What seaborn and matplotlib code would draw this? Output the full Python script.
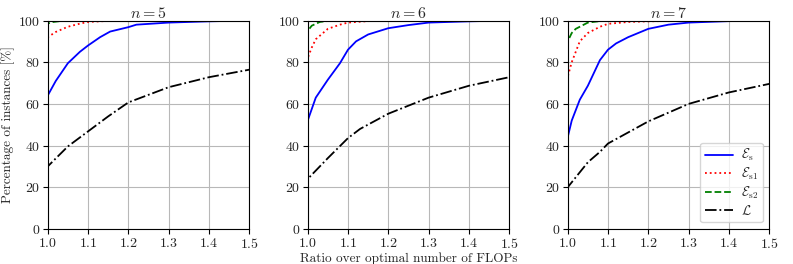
import matplotlib
matplotlib.use("Agg")
import matplotlib.pyplot as plt
import seaborn as sns

# dados (curvas de perfil de desempenho)
titulos = ["$n = 5$", "$n = 6$", "$n = 7$"]
rotulos = [r"$\mathcal{E}_\mathrm{s}$", r"$\mathcal{E}_\mathrm{s1}$",
           r"$\mathcal{E}_\mathrm{s2}$", r"$\mathcal{L}$"]

# n = 5
x_s_5 = [1.0, 1.0, 1.02, 1.05, 1.08, 1.1, 1.13, 1.155, 1.2, 1.22, 1.3, 1.4, 1.5]
y_s_5 = [0, 64, 71, 79.5, 85, 88, 92, 94.7, 96.8, 98, 99, 99.6, 100]
x_s1_5 = [1.0, 1.0, 1.02, 1.05, 1.08, 1.1, 1.15, 1.2, 1.5]
y_s1_5 = [0, 92, 94.5, 97, 98.5, 99.3, 99.8, 100, 100]
x_s2_5 = [1.0, 1.0, 1.01, 1.03, 1.06, 1.5]
y_s2_5 = [0, 98.5, 99.2, 99.7, 100, 100]
x_l_5 = [1.0, 1.0, 1.05, 1.1, 1.15, 1.2, 1.3, 1.4, 1.5]
y_l_5 = [0, 30, 39.6, 46.8, 54, 60.7, 68, 72.8, 76.4]

# n = 6
x_s_6 = [1.0, 1.0, 1.02, 1.05, 1.08, 1.1, 1.12, 1.15, 1.2, 1.25, 1.3, 1.4, 1.5]
y_s_6 = [0, 52, 63, 71.6, 79.5, 86, 90, 93.3, 96.3, 97.8, 99, 99.6, 100]
x_s1_6 = [1.0, 1.0, 1.01, 1.02, 1.05, 1.08, 1.1, 1.15, 1.25, 1.5]
y_s1_6 = [0, 82, 87, 91, 96, 98, 99, 99.7, 100, 100]
x_s2_6 = [1.0, 1.0, 1.01, 1.03, 1.06, 1.5]
y_s2_6 = [0, 95, 97.5, 99.3, 100, 100]
x_l_6 = [1.0, 1.0, 1.05, 1.1, 1.13, 1.2, 1.3, 1.4, 1.5]
y_l_6 = [0, 24, 34, 43.6, 48, 55.3, 63, 68.7, 72.8]

# n = 7
x_s_7 = [1.0, 1.0, 1.01, 1.03, 1.05, 1.08, 1.1, 1.12, 1.15, 1.2, 1.25, 1.3, 1.4, 1.5]
y_s_7 = [0, 44, 52, 62, 68.7, 81, 86, 89, 92, 96, 98, 99, 99.7, 100]
x_s1_7 = [1.0, 1.0, 1.01, 1.03, 1.05, 1.08, 1.1, 1.15, 1.2, 1.3, 1.5]
y_s1_7 = [0, 73, 80, 90, 94, 97, 98.4, 99.3, 99.6, 100, 100]
x_s2_7 = [1.0, 1.0, 1.01, 1.02, 1.05, 1.08, 1.1, 1.5]
y_s2_7 = [0, 90, 94, 96, 99, 99.7, 100, 100]
x_l_7 = [1.0, 1.0, 1.05, 1.08, 1.1, 1.2, 1.3, 1.4, 1.5]
y_l_7 = [0, 20, 32, 37, 41, 51.6, 60, 65.5, 69.6]

paineis = [
    [(x_s_5, y_s_5), (x_s1_5, y_s1_5), (x_s2_5, y_s2_5), (x_l_5, y_l_5)],
    [(x_s_6, y_s_6), (x_s1_6, y_s1_6), (x_s2_6, y_s2_6), (x_l_6, y_l_6)],
    [(x_s_7, y_s_7), (x_s1_7, y_s1_7), (x_s2_7, y_s2_7), (x_l_7, y_l_7)],
]
cores = ["#0000ff", "#ff0000", "#008000", "black"]
estilos = ["-", ":", "--", "-."]

# estilo dos graficos
sns.set_theme(style="ticks")
plt.rcParams["font.family"] = ["cmr10", "DejaVu Serif"]
plt.rcParams["mathtext.fontset"] = "cm"
plt.rcParams["axes.formatter.use_mathtext"] = True
plt.rcParams["font.size"] = 8
plt.rcParams["axes.unicode_minus"] = False

fig = plt.figure(figsize=(7.93, 2.64), dpi=100)
esquerdas = [47.7, 307.7, 567.7]
axes = [fig.add_axes([e / 793, 35 / 264, 201.5 / 793, 208.5 / 264]) for e in esquerdas]

for ax, titulo, series in zip(axes, titulos, paineis):
    for (xs, ys), cor, ls, rot in zip(series, cores, estilos, rotulos):
        sns.lineplot(x=xs, y=ys, ax=ax, color=cor, linestyle=ls, linewidth=1.3,
                     estimator=None, sort=False, label=rot, legend=False)
    ax.set_xlim(1.0, 1.5)
    ax.set_ylim(0, 100)
    ax.set_xticks([1.0, 1.1, 1.2, 1.3, 1.4, 1.5])
    ax.set_yticks([0, 20, 40, 60, 80, 100])
    ax.grid(True, color="#b8b8b8", linewidth=0.8)
    ax.set_axisbelow(True)
    for sp in ax.spines.values():
        sp.set_color("black")
        sp.set_linewidth(0.8)
    ax.tick_params(labelsize=10, length=3.5, width=0.8, color="black", pad=2)
    ax.set_title(titulo, fontsize=11.5, pad=1)
    ax.set_xlabel("")
    ax.set_ylabel("")

axes[0].set_ylabel("Percentage of instances [%]", fontsize=9.5, labelpad=2)
axes[1].set_xlabel("Ratio over optimal number of FLOPs", fontsize=9.5, labelpad=1)
axes[2].legend(loc="lower right", fontsize=9.5, handlelength=2.1, labelspacing=0.2,
               borderpad=0.35, handletextpad=0.6)

plt.savefig("out.png", dpi=100)
plt.close()
